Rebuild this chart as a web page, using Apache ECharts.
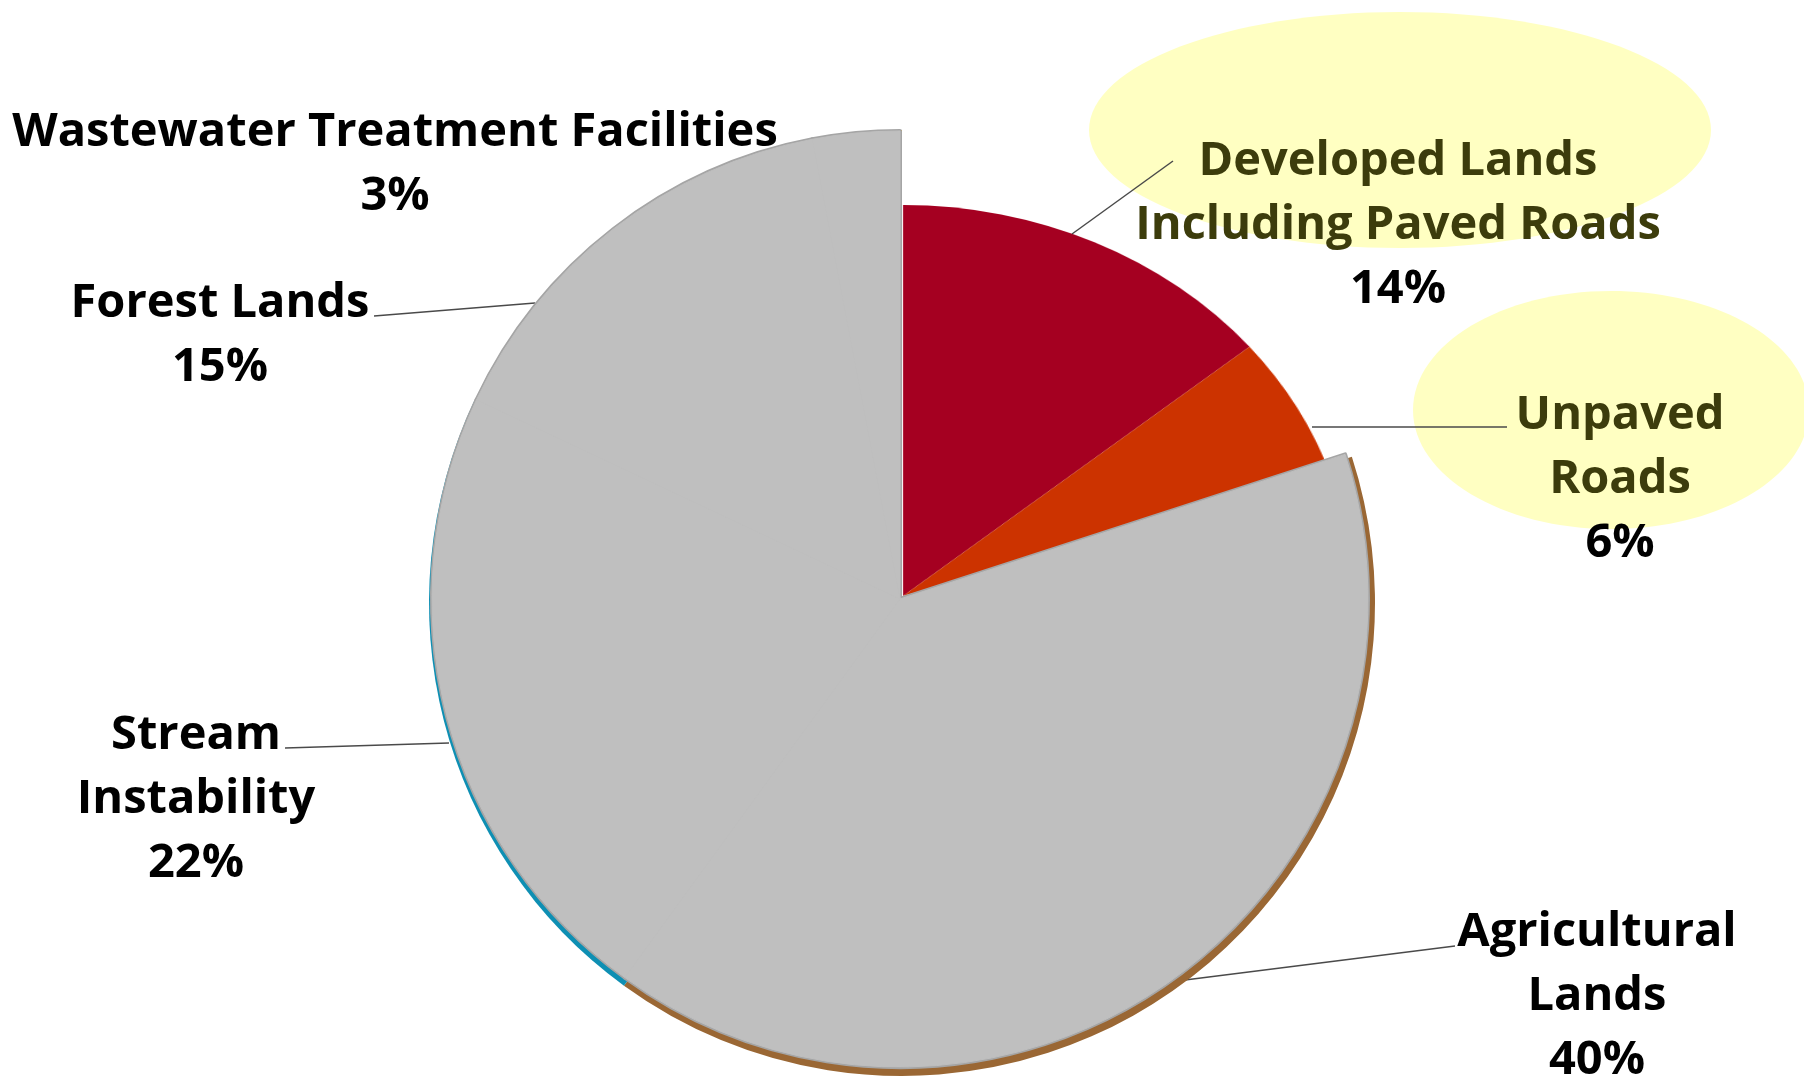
<!DOCTYPE html>
<html>
<head>
<meta charset="utf-8">
<script src="https://cdn.jsdelivr.net/npm/echarts@6/dist/echarts.min.js"></script>
<style>
html,body{margin:0;padding:0;background:#ffffff;}
#wrap{position:relative;width:1804px;height:1078px;overflow:hidden;background:#ffffff;}
#front{position:absolute;left:0;top:0;width:1804px;height:1078px;}
#back{position:absolute;left:0;top:0;width:1804px;height:1078px;transform:scaleX(1.15);transform-origin:903px 596px;}
</style>
</head>
<body>
<div id="wrap">
  <div id="back"></div>
  <div id="front"></div>
</div>
<script>
// ---- data ----
const categories = [
  'Developed Lands\nIncluding Paved Roads',
  'Unpaved\nRoads',
  'Agricultural\nLands',
  'Stream\nInstability',
  'Forest Lands',
  'Wastewater Treatment Facilities'
];
const values = [14, 6, 40, 22, 15, 3];
const highlighted = [true, true, false, false, false, false];

// ---- styling / layout (not data) ----
const sliceColors = ['#A50021', '#CC3300', '#9A6734', '#0E8FB3', '#A8A8A8', '#F2A900'];
const GREY = '#BFBFBF';
const GREY_EDGE = '#A5A5A5';
const T = 'rgba(0,0,0,0)';
const FONT = '"Open Sans"';
const FS = 47;
const LH = 64;

const labelPlacement = [
  { x: 1398, y: 226, line: [[1072, 234], [1173, 161]] },
  { x: 1620, y: 480, line: [[1312, 427], [1507, 427]] },
  { x: 1597, y: 997, line: [[1185, 980], [1455, 946]] },
  { x: 196,  y: 800, line: [[449, 743], [285, 748]] },
  { x: 220,  y: 336, line: [[535, 303], [374, 316]] },
  { x: 395,  y: 165, line: null }
];

function dataFor(styleFn, labelFn) {
  return categories.map((c, i) => {
    const d = { name: c, value: values[i], itemStyle: styleFn(i) };
    const show = labelFn ? labelFn(i) : false;
    d.label = { show: show };
    d.labelLine = { show: show && !!labelPlacement[i].line };
    return d;
  });
}

function fmt(p) {
  const i = p.dataIndex;
  const st = highlighted[i] ? 'h' : 'n';
  return p.name.split('\n').map(s => '{' + st + '|' + s + '}').join('\n') + '\n{p|' + p.value + '%}';
}

const txt = { fontFamily: FONT, fontWeight: 'bold', fontSize: FS, lineHeight: LH };
const labelCfg = {
  position: 'outside',
  formatter: fmt,
  width: 860,
  overflow: 'none',
  rich: {
    n: Object.assign({ color: '#000000' }, txt),
    h: Object.assign({ color: '#3C3C0C' }, txt),
    p: Object.assign({ color: '#000000' }, txt)
  }
};
const lineCfg = { show: true, lineStyle: { color: '#4A4A4A', width: 1.5 } };

function layoutFn(params) {
  const L = labelPlacement[params.dataIndex];
  const out = { x: L.x, y: L.y, align: 'center', verticalAlign: 'middle' };
  if (L.line) out.labelLinePoints = [L.line[0], L.line[1], L.line[1]];
  return out;
}

const common = {
  type: 'pie',
  startAngle: 90,
  clockwise: true,
  avoidLabelOverlap: false,
  animation: false,
  emphasis: { disabled: true },
  padAngle: 0,
  silent: true
};

// back chart: the two highlighted slices (drawn with a horizontal perspective stretch)
const backOption = {
  backgroundColor: 'transparent',
  animation: false,
  series: [
    Object.assign({}, common, {
      center: [903, 596], radius: [0, 391],
      label: { show: false }, labelLine: { show: false },
      data: dataFor(i => ({ color: highlighted[i] ? sliceColors[i] : T, borderWidth: 0 }))
    })
  ]
};

// front chart: side wall, grey cover and all labels
const frontOption = {
  backgroundColor: 'transparent',
  animation: false,
  graphic: [
    { type: 'ellipse', z: -10, shape: { cx: 1400, cy: 130, rx: 311, ry: 118 }, style: { fill: '#FFFFC2' } },
    { type: 'ellipse', z: -10, shape: { cx: 1611, cy: 410, rx: 198, ry: 119 }, style: { fill: '#FFFFC2' } }
  ],
  series: [
    // 3D side wall of the covered slices
    Object.assign({}, common, {
      center: [902, 603], radius: [0, 473],
      label: { show: false }, labelLine: { show: false },
      data: dataFor(i => ({ color: highlighted[i] ? T : sliceColors[i], borderWidth: 0 }))
    }),
    // grey outline
    Object.assign({}, common, {
      center: [900, 599], radius: [0, 468],
      label: { show: false }, labelLine: { show: false },
      data: dataFor(i => highlighted[i] ? { color: T, borderWidth: 0 } : { color: GREY_EDGE, borderColor: GREY_EDGE, borderWidth: 4 })
    }),
    // grey cover, carries every label
    Object.assign({}, common, {
      center: [900, 599], radius: [0, 468],
      label: labelCfg, labelLine: lineCfg, labelLayout: layoutFn,
      data: dataFor(i => highlighted[i] ? { color: T, borderWidth: 0 } : { color: GREY, borderColor: GREY, borderWidth: 1 }, i => true)
    })
  ]
};

const back = echarts.init(document.getElementById('back'), null, { renderer: 'canvas' });
back.setOption(backOption);
const front = echarts.init(document.getElementById('front'), null, { renderer: 'canvas' });
front.setOption(frontOption);
</script>
</body>
</html>
